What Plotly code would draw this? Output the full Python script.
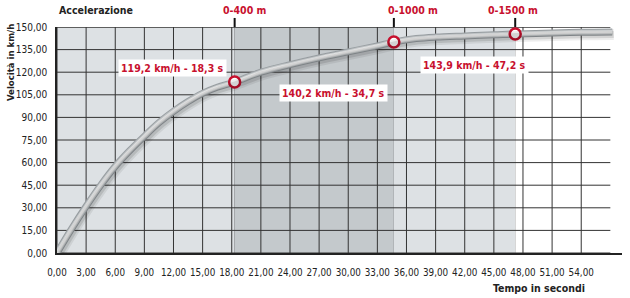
import plotly.graph_objects as go

# ---- data ----
time_s = [0, 1.5, 3, 4.5, 6, 7.5, 9, 10.5, 12, 13.5, 15, 16.5, 18.3, 21, 24, 27, 30, 33,
          34.7, 37, 39, 42, 45, 47.2, 51, 54, 57.2]
speed_kmh = [0, 16, 31, 45, 57.5, 68, 77.5, 86.5, 94, 100.5, 106, 110, 113.5, 120, 125, 129.5,
             133.5, 137.5, 140, 142.3, 143.3, 144.1, 144.8, 145.4, 146, 146.5, 146.7]

mark_time = [18.3, 34.7, 47.2]
mark_speed = [113.5, 140.0, 145.4]
mark_dist = ["0-400 m", "0-1000 m", "0-1500 m"]
mark_text = ["119,2 km/h - 18,3 s", "140,2 km/h - 34,7 s", "143,9 km/h - 47,2 s"]

x_ticks = [i * 3 for i in range(19)]
y_ticks = [i * 15 for i in range(11)]
x_labels = [f"{v:.2f}".replace(".", ",") for v in x_ticks]
y_labels = [f"{v:.2f}".replace(".", ",") for v in y_ticks]

GRID_END = 57
X_MAX = 58.2
RED = "#c8102e"
FONT = "DejaVu Sans Condensed, Liberation Sans, sans-serif"
LIGHT = "#dde1e4"
DARK = "#c4c9cc"
band_colors = [LIGHT, DARK, LIGHT, "#ffffff"]

L, R, T, B = 57, 8, 27, 45
W, H = 630, 298
pw, ph = W - L - R, H - T - B

fig = go.Figure()

# soft shadow drawn on a slightly shifted overlay axis pair
sx = 1.5 * X_MAX / pw
sy = 2.5 * 150 / ph
for w, c in [(11, "rgba(0,0,0,0.07)"), (7, "rgba(0,0,0,0.11)")]:
    fig.add_trace(go.Scatter(x=time_s, y=speed_kmh, mode="lines", xaxis="x2", yaxis="y2",
                             line=dict(color=c, width=w, shape="spline", smoothing=1),
                             hoverinfo="skip", showlegend=False))

# tube-like curve
for w, c in [(7, "#9aa0a4"), (5, "#cdd1d3"), (3, "#eff1f2"), (1.5, "#ffffff")]:
    fig.add_trace(go.Scatter(x=time_s, y=speed_kmh, mode="lines",
                             line=dict(color=c, width=w, shape="spline", smoothing=1),
                             hoverinfo="skip", showlegend=False))

fig.add_trace(go.Scatter(x=mark_time, y=mark_speed, mode="markers",
                         marker=dict(size=11, color="white", line=dict(color=RED, width=2.5)),
                         showlegend=False, cliponaxis=False))

shapes = []
bounds = [0] + mark_time + [GRID_END]
for i in range(4):
    shapes.append(dict(type="rect", xref="x", yref="y", x0=bounds[i], x1=bounds[i + 1],
                       y0=0, y1=150, fillcolor=band_colors[i], line=dict(width=0), layer="below"))
for xv in x_ticks:
    shapes.append(dict(type="line", xref="x", yref="y", x0=xv, x1=xv, y0=0, y1=150,
                       line=dict(color="#333333", width=1), layer="below"))
for yv in y_ticks:
    shapes.append(dict(type="line", xref="x", yref="y", x0=0, x1=GRID_END, y0=yv, y1=yv,
                       line=dict(color="#333333", width=1.5 if yv == 150 else 1), layer="below"))
for xv in mark_time:
    shapes.append(dict(type="line", xref="x", yref="paper", x0=xv, x1=xv, y0=0, y1=1.04,
                       line=dict(color="#111111", width=2), layer="below"))

annotations = []
dist_shift = [10, 19, -2]
for xv, t, dx in zip(mark_time, mark_dist, dist_shift):
    annotations.append(dict(x=xv, y=1.075, xref="x", yref="paper", text=f"<b>{t}</b>",
                            showarrow=False, xshift=dx, yanchor="middle",
                            font=dict(family=FONT, size=10.5, color=RED)))
label_shift = [(-62, 14), (-60, -51), (-41, -31)]
for xv, yv, t, (dx, dy) in zip(mark_time, mark_speed, mark_text, label_shift):
    annotations.append(dict(x=xv, y=yv, xref="x", yref="y", text=f"<b>{t}</b>",
                            showarrow=False, xshift=dx, yshift=dy, bgcolor="white",
                            borderpad=2, font=dict(family=FONT, size=10.5, color=RED)))
annotations.append(dict(x=0, y=1.075, xref="paper", yref="paper", text="<b>Accelerazione</b>",
                        showarrow=False, xanchor="left", yanchor="middle",
                        font=dict(family=FONT, size=10.5, color="#222222")))
annotations.append(dict(x=(10 - L) / pw, y=(H - B - 63) / ph, xref="paper", yref="paper",
                        text="<b>Velocità in km/h</b>", showarrow=False, textangle=-90,
                        xanchor="center", yanchor="middle",
                        font=dict(family=FONT, size=9.5, color="#222222")))
annotations.append(dict(x=(539 - L) / pw, y=(H - B - 288) / ph, xref="paper", yref="paper",
                        text="<b>Tempo in secondi</b>", showarrow=False,
                        xanchor="center", yanchor="middle",
                        font=dict(family=FONT, size=10.5, color="#222222")))

fig.update_layout(
    width=W, height=H, margin=dict(l=L, r=R, t=T, b=B),
    paper_bgcolor="white", plot_bgcolor="white",
    shapes=shapes, annotations=annotations,
    font=dict(family=FONT, color="#222222"),
    xaxis=dict(range=[0, X_MAX], showgrid=False, zeroline=False, tickvals=x_ticks,
               ticktext=x_labels, tickfont=dict(size=9.8, family=FONT, color="#222222"),
               tickangle=0, showline=True, linecolor="#222222", linewidth=2, ticks="",
               ticklabelstandoff=9),
    yaxis=dict(range=[0, 150], showgrid=False, zeroline=False, tickvals=y_ticks,
               ticktext=y_labels, tickfont=dict(size=10, family=FONT, color="#222222"),
               showline=True, linecolor="#222222", linewidth=1.5, ticks="",
               ticklabelstandoff=6),
    xaxis2=dict(range=[-sx, X_MAX - sx], overlaying="x", visible=False),
    yaxis2=dict(range=[sy, 150 + sy], overlaying="y", visible=False),
)

fig.write_html("out.html")
